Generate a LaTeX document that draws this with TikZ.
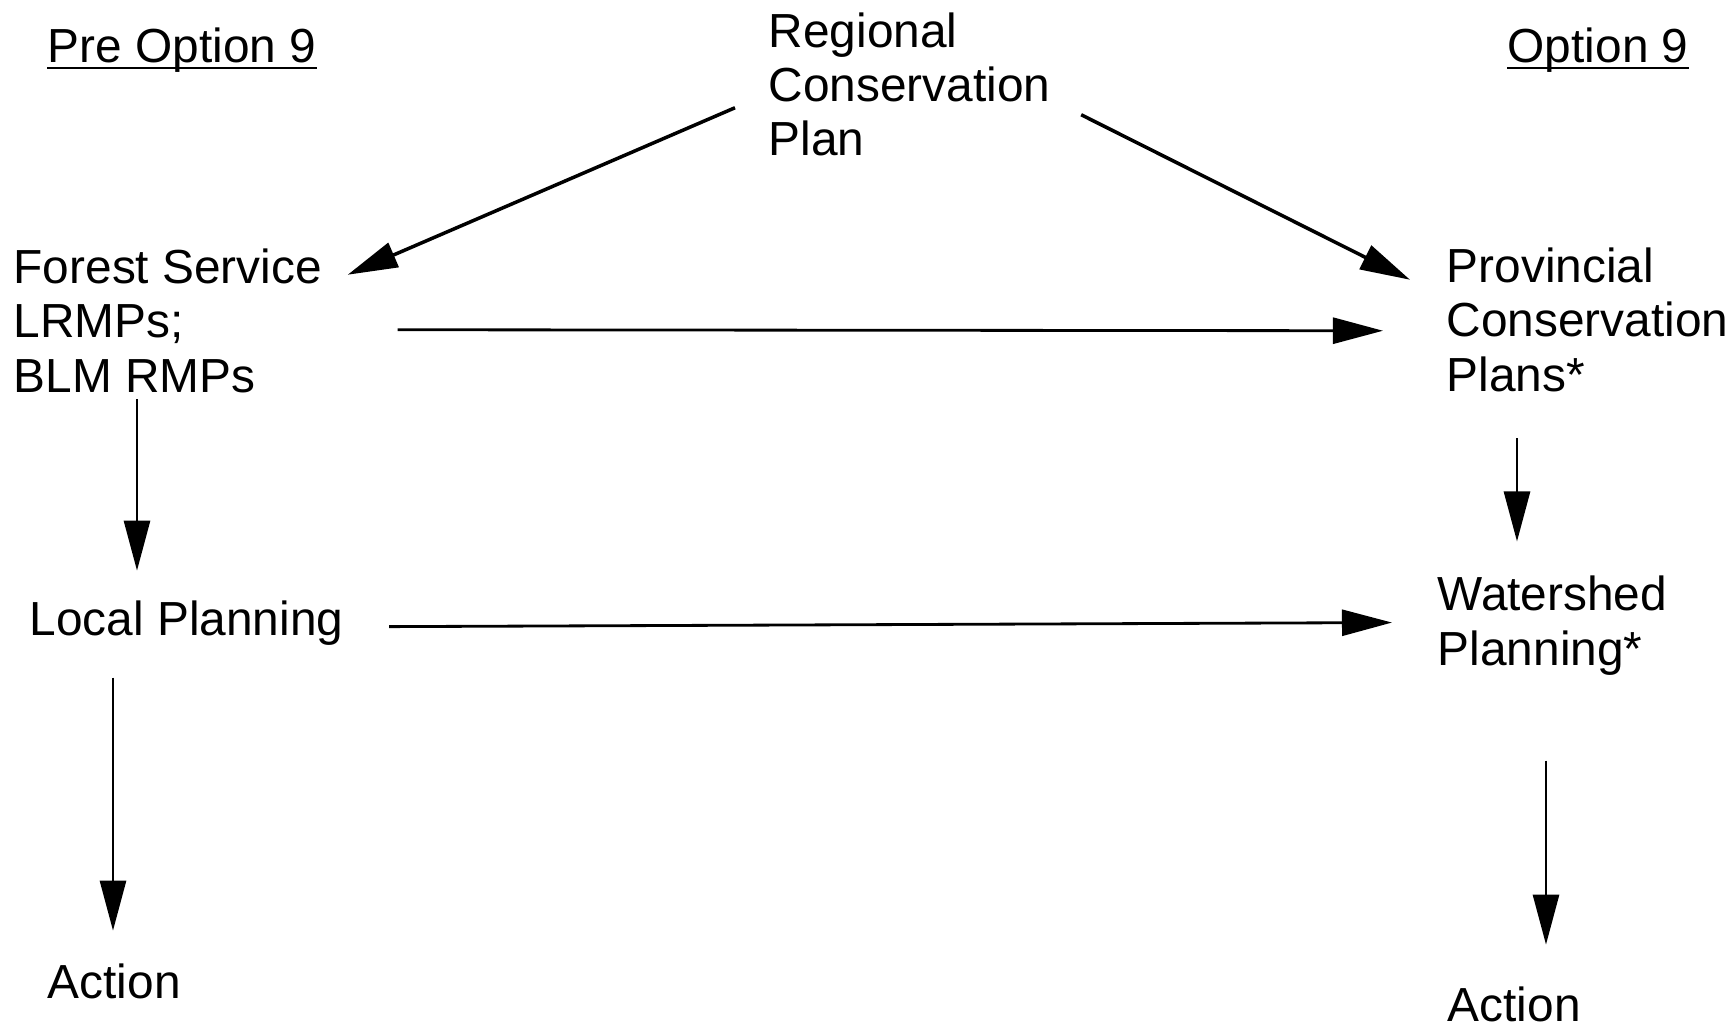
\documentclass[tikz,border=0pt]{standalone}
\usepackage{fontspec}
\setmainfont{Liberation Sans}
\usetikzlibrary{arrows.meta, calc}

\begin{document}
\begin{tikzpicture}[x=0.01cm, y=-0.01cm,
    lbl/.style={inner sep=0pt, anchor=base west, align=left, font=\fontsize{13.6pt}{15.4pt}\selectfont},
    flow/.style={-{Triangle[length=5mm, width=2.6mm]}, line width=0.8pt},
    slant/.style={flow, line width=1pt}]
  \useasboundingbox (0,0) rectangle (1732,1027);

  % column heads
  \node[lbl] (pre) at (47,62) {Pre Option 9};
  \node[lbl] (opt) at (1507,62) {Option 9};
  \draw[line width=0.85pt] ($(pre.base west)+(0,6)$) -- ($(pre.base east)+(0,6)$);
  \draw[line width=0.85pt] ($(opt.base west)+(0,6)$) -- ($(opt.base east)+(0,6)$);

  % planning levels (base = last line)
  \node[lbl] (reg) at (768,156) {Regional\\Conservation\\Plan};
  \node[lbl] (fs) at (13,392) {Forest Service\\LRMPs;\\BLM RMPs};
  \node[lbl] (pcp) at (1446,391) {Provincial\\Conservation\\Plans*};
  \node[lbl] (lp) at (29,635) {Local Planning};
  \node[lbl] (ws) at (1437,665) {Watershed\\Planning*};
  \node[lbl] (act1) at (47,998) {Action};
  \node[lbl] (act2) at (1447,1021) {Action};

  % arrows
  \draw[slant] ($(reg.west)+(-33,23)$) -- ($(fs.east)+(25,-46)$);
  \draw[slant] ($(reg.east)+(30,30)$) -- ($(pcp.west)+(-36,-40)$);
  \draw[flow] ($(fs.east)+(75,9)$) -- ($(pcp.west)+(-63,11)$);
  \draw[flow] ($(lp.east)+(45,4)$) -- ($(ws.west)+(-45,-3)$);
  \draw[flow] ($(fs.south west)+(124,6)$) -- ($(lp.north west)+(108,-29)$);
  \draw[flow] ($(lp.south west)+(84,32)$) -- ($(act1.north west)+(66,-32)$);
  \draw[flow] ($(pcp.south west)+(71,46)$) -- ($(ws.north west)+(80,-34)$);
  \draw[flow] ($(ws.south west)+(109,85)$) -- ($(act2.north west)+(99,-41)$);
\end{tikzpicture}
\end{document}
